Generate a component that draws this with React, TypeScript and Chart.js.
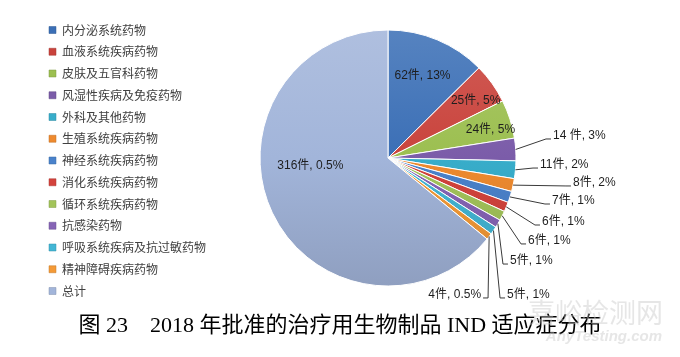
import React, { useEffect, useRef } from "react";
import { Chart, registerables } from "chart.js";

Chart.register(...registerables);

const categories = [
  "内分泌系统药物",
  "血液系统疾病药物",
  "皮肤及五官科药物",
  "风湿性疾病及免疫药物",
  "外科及其他药物",
  "生殖系统疾病药物",
  "神经系统疾病药物",
  "消化系统疾病药物",
  "循环系统疾病药物",
  "抗感染药物",
  "呼吸系统疾病及抗过敏药物",
  "精神障碍疾病药物",
  "总计",
];

const counts = [62, 25, 24, 14, 11, 8, 7, 6, 6, 5, 5, 4, 316];

const sliceLabels = [
  "62件, 13%",
  "25件, 5%",
  "24件, 5%",
  "14 件, 3%",
  "11件, 2%",
  "8件, 2%",
  "7件, 1%",
  "6件, 1%",
  "6件, 1%",
  "5件, 1%",
  "5件, 1%",
  "4件, 0.5%",
  "316件, 0.5%",
];

const sliceColors = [
  "#3B6FB6",
  "#C9433C",
  "#9CBF50",
  "#7B5CA9",
  "#38ADCA",
  "#EE8A2F",
  "#4A82CB",
  "#D3433C",
  "#A3C45A",
  "#8664B6",
  "#43B6D5",
  "#F49A37",
  "#A2B5DA",
];

const titleText = "图 23　2018 年批准的治疗用生物制品 IND 适应症分布";

// label layout (separate from data): inside labels in polar terms, outside labels relative to radius
const labelPlacement: any[] = [
  { inside: true, r: 0.7, shift: 0 },
  { inside: true, r: 0.82, shift: 2.2 },
  { inside: true, r: 0.83, shift: 2.3 },
  { dx: 1.289, dy: -0.172 },
  { dx: 1.1875, dy: 0.055 },
  { dx: 1.445, dy: 0.195 },
  { dx: 1.281, dy: 0.336 },
  { dx: 1.203, dy: 0.5 },
  { dx: 1.094, dy: 0.648 },
  { dx: 0.953, dy: 0.805 },
  { dx: 0.93, dy: 1.07 },
  { dx: 0.727, dy: 1.07, right: true },
  { inside: true, r: 0.61, shift: 19.5 },
];

const LABEL_FONT = "'Liberation Sans', 'Noto Sans CJK SC', sans-serif";
const CJK_FONT = "'Noto Sans CJK SC', sans-serif";

function shade(hex: string, amt: number) {
  const n = parseInt(hex.slice(1), 16);
  const r = (n >> 16) & 255, g = (n >> 8) & 255, b = n & 255;
  const f = (c: number) =>
    amt >= 0 ? Math.round(c + (255 - c) * amt) : Math.round(c * (1 + amt));
  return `rgb(${f(r)},${f(g)},${f(b)})`;
}

const sliceLabelPlugin = {
  id: "sliceLabels",
  afterDatasetsDraw(chart: any) {
    const meta = chart.getDatasetMeta(0);
    const ctx = chart.ctx;
    ctx.save();
    ctx.font = `12px ${LABEL_FONT}`;
    ctx.textBaseline = "middle";
    ctx.strokeStyle = "#3a3a3a";
    ctx.lineWidth = 1;
    meta.data.forEach((el: any, i: number) => {
      const p = el.getProps(["x", "y", "startAngle", "endAngle", "outerRadius"], true);
      const mid = (p.startAngle + p.endAngle) / 2;
      const R = p.outerRadius;
      const place = labelPlacement[i];
      const text = sliceLabels[i];
      ctx.fillStyle = "#1e1e1e";
      if (place.inside) {
        const a = mid + (place.shift * Math.PI) / 180;
        const lx = p.x + Math.cos(a) * R * place.r;
        const ly = p.y + Math.sin(a) * R * place.r;
        ctx.textAlign = "center";
        ctx.fillText(text, lx, ly);
      } else {
        const tx = p.x + place.dx * R;
        const ty = p.y + place.dy * R;
        const ex = p.x + Math.cos(mid) * R;
        const ey = p.y + Math.sin(mid) * R;
        const dir = place.right ? -1 : 1;
        const ly = ty + 3;
        ctx.beginPath();
        ctx.moveTo(ex, ey);
        ctx.lineTo(tx - dir * 7, ly);
        ctx.lineTo(tx - dir * 2, ly);
        ctx.stroke();
        ctx.textAlign = place.right ? "right" : "left";
        ctx.fillText(text, tx, ty);
      }
    });
    ctx.restore();
  },
};

const watermarkPlugin = {
  id: "watermark",
  afterDraw(chart: any) {
    const ctx = chart.ctx;
    ctx.save();
    ctx.fillStyle = "rgba(200,200,200,0.45)";
    ctx.textAlign = "right";
    ctx.textBaseline = "middle";
    ctx.font = `27px ${CJK_FONT}`;
    ctx.fillText("嘉峪检测网", 663, 313);
    ctx.font = `italic bold 15px 'Liberation Sans', sans-serif`;
    ctx.fillText("AnyTesting.com", 662, 337);
    ctx.restore();
  },
};

export default function App() {
  const canvasRef = useRef<HTMLCanvasElement | null>(null);

  useEffect(() => {
    if (!canvasRef.current) return;
    const defaultGen = (Chart as any).overrides.doughnut.plugins.legend.labels.generateLabels;
    const chart = new Chart(canvasRef.current, {
      type: "pie",
      data: {
        labels: categories,
        datasets: [
          {
            data: counts,
            radius: 128,
            borderColor: "#ffffff",
            borderWidth: 1,
            backgroundColor: (c: any) => {
              const base = sliceColors[c.dataIndex];
              const area = c.chart.chartArea;
              if (!area) return base;
              const cy = (area.top + area.bottom) / 2;
              const g = c.chart.ctx.createLinearGradient(0, cy - 128, 0, cy + 128);
              g.addColorStop(0, shade(base, 0.14));
              g.addColorStop(0.5, base);
              g.addColorStop(1, shade(base, -0.12));
              return g;
            },
          } as any,
        ],
      },
      options: {
        responsive: false,
        devicePixelRatio: 1,
        animation: false,
        layout: { padding: { top: 14.25, left: 39.25, right: 39.25, bottom: 0 } },
        scales: {
          spacer: {
            type: "linear",
            position: "right",
            display: false,
            afterFit: (s: any) => {
              const lw = s.chart.legend ? s.chart.legend.width : 0;
              s.width = Math.max(0, lw - 96);
            },
          } as any,
        },
        plugins: {
          tooltip: { enabled: false },
          legend: {
            position: "left",
            align: "start",
            maxWidth: 300,
            labels: {
              boxWidth: 7,
              boxHeight: 7,
              padding: 9.75,
              color: "#404040",
              font: { size: 12, family: CJK_FONT },
              generateLabels: (ch: any) =>
                defaultGen(ch).map((it: any) => ({
                  ...it,
                  fillStyle: sliceColors[it.index],
                  strokeStyle: shade(sliceColors[it.index], -0.2),
                  lineWidth: 0.5,
                  fontColor: "#404040",
                })),
            },
          },
          title: {
            display: true,
            position: "bottom",
            text: titleText,
            color: "#000000",
            font: {
              size: 22,
              weight: "normal",
              family: "'Liberation Serif', 'Noto Sans CJK SC', serif",
            },
            padding: { top: 11.05, bottom: 17.8 },
          },
        },
      } as any,
      plugins: [sliceLabelPlugin, watermarkPlugin],
    });
    return () => chart.destroy();
  }, []);

  return (
    <div style={{ position: "absolute", left: 0, top: 0, width: 680, height: 357, background: "#fff" }}>
      <canvas ref={canvasRef} width={680} height={357} style={{ display: "block" }} />
    </div>
  );
}
